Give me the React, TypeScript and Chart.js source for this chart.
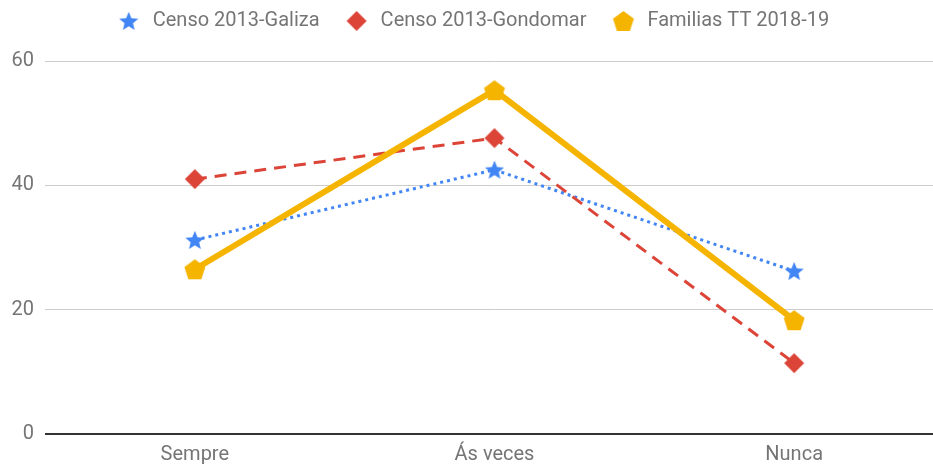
import React, { useEffect, useRef } from "react";
import { Chart, registerables } from "chart.js";

Chart.register(...registerables);

const categories = ["Sempre", "Ás veces", "Nunca"];
const galiza = [31.2, 42.5, 26.2];
const gondomar = [41.0, 47.6, 11.4];
const familias = [26.5, 55.3, 18.3];
const yTicks = [0, 20, 40, 60];

const BLUE = "#4285F4";
const RED = "#DB4437";
const YELLOW = "#F4B400";
const TEXT = "#757575";
const FONT = "Roboto";

function makeCanvas(size: number) {
  const c = document.createElement("canvas");
  c.width = size;
  c.height = size;
  return c;
}

function starImage(color: string, r: number) {
  const size = Math.ceil(r * 2 + 2);
  const c = makeCanvas(size);
  const ctx = c.getContext("2d")!;
  const cx = size / 2;
  const cy = size / 2 + r * 0.08;
  const inner = r * 0.45;
  ctx.beginPath();
  for (let i = 0; i < 10; i++) {
    const rad = i % 2 === 0 ? r : inner;
    const a = -Math.PI / 2 + (i * Math.PI) / 5;
    const x = cx + rad * Math.cos(a);
    const y = cy + rad * Math.sin(a);
    if (i === 0) ctx.moveTo(x, y);
    else ctx.lineTo(x, y);
  }
  ctx.closePath();
  ctx.fillStyle = color;
  ctx.fill();
  return c;
}

function diamondImage(color: string, r: number) {
  const size = Math.ceil(r * 2 + 2);
  const c = makeCanvas(size);
  const ctx = c.getContext("2d")!;
  const cx = size / 2;
  const cy = size / 2;
  ctx.beginPath();
  ctx.moveTo(cx, cy - r);
  ctx.lineTo(cx + r, cy);
  ctx.lineTo(cx, cy + r);
  ctx.lineTo(cx - r, cy);
  ctx.closePath();
  ctx.fillStyle = color;
  ctx.fill();
  return c;
}

function pentagonImage(color: string, r: number) {
  const size = Math.ceil(r * 2 + 2);
  const c = makeCanvas(size);
  const ctx = c.getContext("2d")!;
  const cx = size / 2;
  const cy = size / 2 + r * 0.1;
  ctx.beginPath();
  for (let i = 0; i < 5; i++) {
    const a = -Math.PI / 2 + (i * 2 * Math.PI) / 5;
    const x = cx + r * Math.cos(a);
    const y = cy + r * Math.sin(a);
    if (i === 0) ctx.moveTo(x, y);
    else ctx.lineTo(x, y);
  }
  ctx.closePath();
  ctx.fillStyle = color;
  ctx.fill();
  return c;
}

export default function App() {
  const ref = useRef<HTMLCanvasElement | null>(null);

  useEffect(() => {
    if (!ref.current) return;
    const star = starImage(BLUE, 10);
    const diamond = diamondImage(RED, 10);
    const pentagon = pentagonImage(YELLOW, 11);

    const legendHeightPlugin = {
      id: "legendHeight",
      beforeLayout(chart: any) {
        const lg = chart.legend;
        if (lg && !lg.__patched) {
          const orig = lg.fit.bind(lg);
          lg.fit = function () {
            orig();
            this.height = 73;
          };
          lg.__patched = true;
        }
      },
    };

    const chart = new Chart(ref.current, {
      type: "line",
      data: {
        labels: categories,
        datasets: [
          {
            label: "Censo 2013-Galiza",
            data: galiza,
            borderColor: BLUE,
            backgroundColor: BLUE,
            borderWidth: 3,
            borderDash: [3, 4],
            pointStyle: star as any,
            pointRadius: 10,
            tension: 0,
            order: 3,
          },
          {
            label: "Censo 2013-Gondomar",
            data: gondomar,
            borderColor: RED,
            backgroundColor: RED,
            borderWidth: 3,
            borderDash: [12, 8],
            pointStyle: diamond as any,
            pointRadius: 10,
            tension: 0,
            order: 2,
          },
          {
            label: "Familias TT 2018-19",
            data: familias,
            borderColor: YELLOW,
            backgroundColor: YELLOW,
            borderWidth: 6,
            pointStyle: pentagon as any,
            pointRadius: 11,
            tension: 0,
            order: 1,
          },
        ],
      },
      options: {
        animation: false,
        responsive: false,
        layout: { autoPadding: false, padding: { top: -12, left: 0, right: 0, bottom: 0 } },
        plugins: {
          legend: {
            display: true,
            position: "top",
            labels: {
              usePointStyle: true,
              pointStyleWidth: 28,
              padding: 23,
              color: TEXT,
              font: { family: FONT, size: 20 },
              sort: (a: any, b: any) => a.datasetIndex - b.datasetIndex,
            },
          },
          tooltip: { enabled: false },
        },
        scales: {
          x: {
            type: "category",
            offset: true,
            grid: { display: false, drawTicks: false },
            border: { display: false },
            ticks: {
              color: TEXT,
              font: { family: FONT, size: 20 },
              padding: 9,
              autoSkip: false,
              maxRotation: 0,
            },
            afterFit(scale: any) {
              scale.height = 34;
            },
          },
          y: {
            min: 0,
            max: 60,
            afterBuildTicks(scale: any) {
              scale.ticks = yTicks.map((v) => ({ value: v }));
            },
            grid: {
              drawTicks: false,
              color: (ctx: any) => (ctx.tick && ctx.tick.value === 0 ? "#333333" : "#cccccc"),
              lineWidth: (ctx: any) => (ctx.tick && ctx.tick.value === 0 ? 2 : 1),
            },
            border: { display: false },
            ticks: {
              color: TEXT,
              font: { family: FONT, size: 20 },
              padding: 11,
            },
            afterFit(scale: any) {
              scale.width = 45;
            },
          },
        },
      },
      plugins: [legendHeightPlugin],
    });
    return () => chart.destroy();
  }, []);

  return (
    <div
      style={{
        position: "absolute",
        left: 0,
        top: 0,
        width: 933,
        height: 468,
        overflow: "hidden",
        background: "#ffffff",
      }}
    >
      <canvas ref={ref} width={944} height={468} style={{ display: "block" }} />
    </div>
  );
}
